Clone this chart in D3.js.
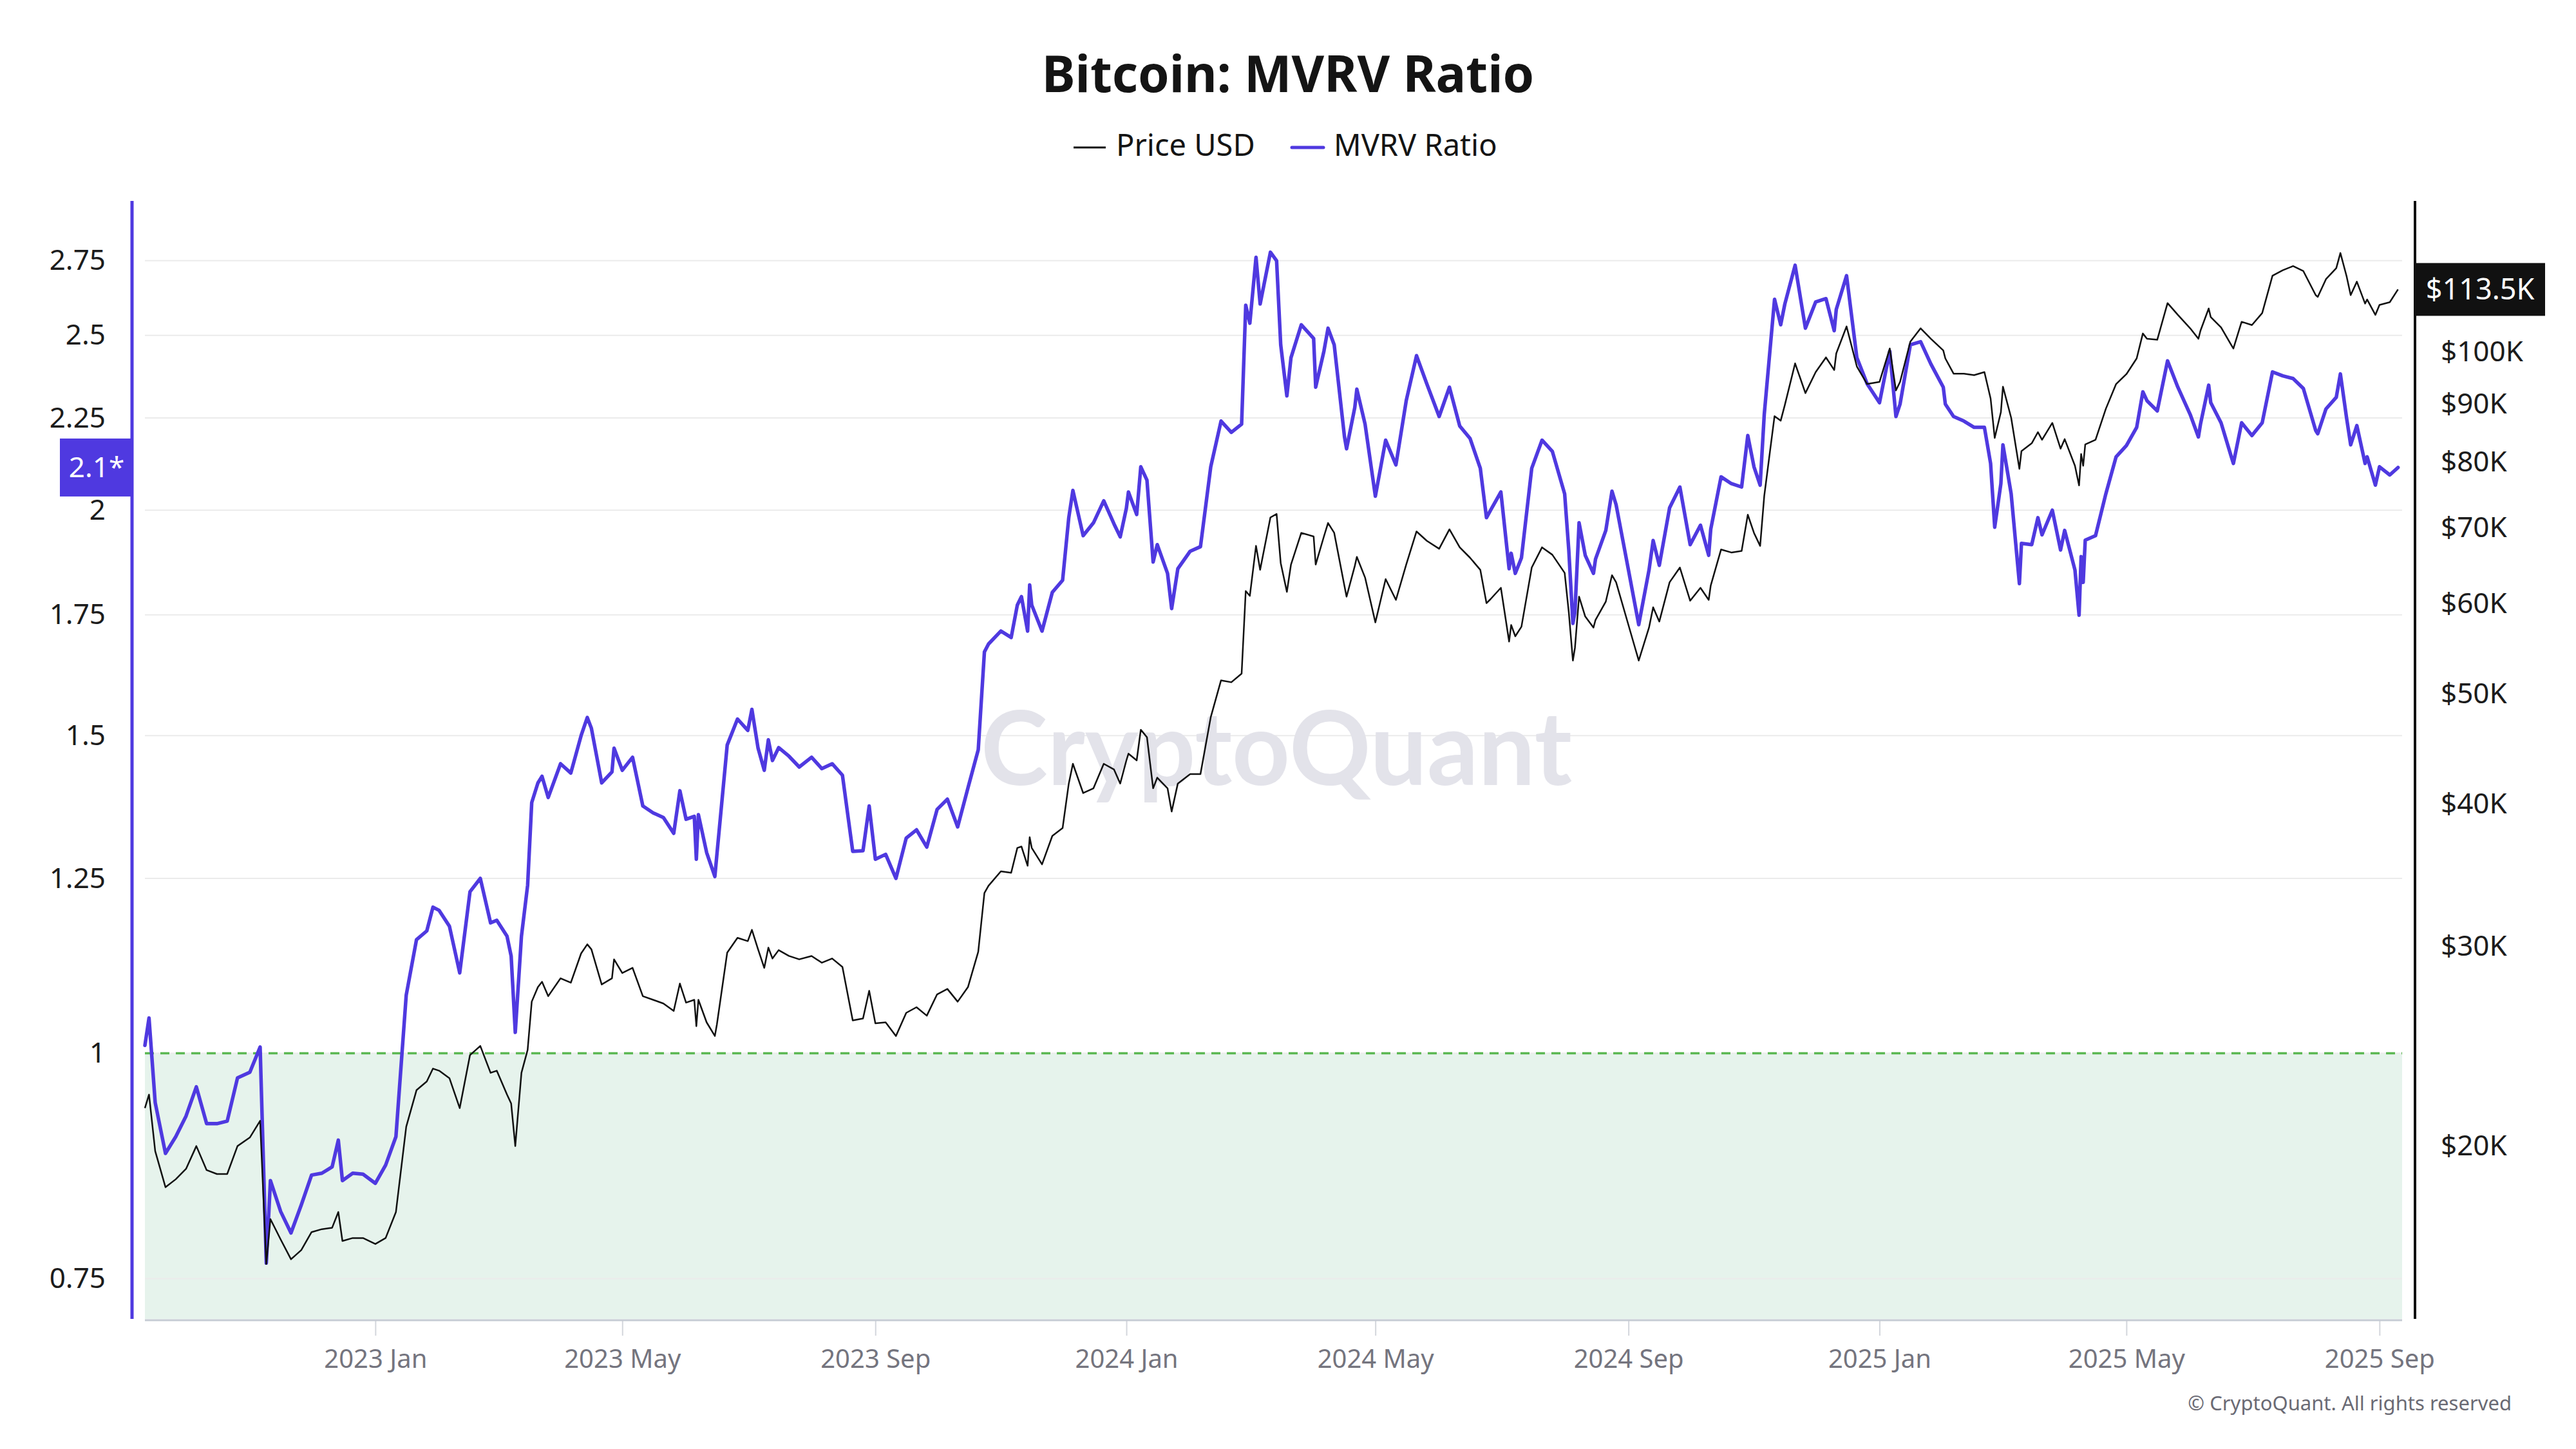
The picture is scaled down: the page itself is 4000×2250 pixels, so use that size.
<!DOCTYPE html>
<html><head><meta charset="utf-8">
<script src="https://cdn.jsdelivr.net/npm/d3@7"></script>
<style>body{margin:0;background:#fff}svg{display:block}text{font-family:"Noto Sans",sans-serif}</style>
</head><body><svg id="chart" width="4000" height="2250"></svg>
<script>
// ---------------- DATA ----------------
const dates = [
"2022-09-11","2022-09-13","2022-09-16","2022-09-21","2022-09-26",
"2022-10-01","2022-10-06","2022-10-11","2022-10-16","2022-10-21","2022-10-26",
"2022-11-01","2022-11-06","2022-11-09","2022-11-11","2022-11-16","2022-11-21","2022-11-26",
"2022-12-01","2022-12-06","2022-12-11","2022-12-14","2022-12-16","2022-12-21","2022-12-26",
"2023-01-01","2023-01-06","2023-01-11","2023-01-16","2023-01-21","2023-01-26","2023-01-29",
"2023-02-01","2023-02-06","2023-02-11","2023-02-16","2023-02-21","2023-02-26",
"2023-03-01","2023-03-06","2023-03-08","2023-03-10","2023-03-13","2023-03-16","2023-03-18","2023-03-21","2023-03-23","2023-03-26",
"2023-04-01","2023-04-06","2023-04-11","2023-04-14","2023-04-16","2023-04-21","2023-04-26","2023-04-27",
"2023-05-01","2023-05-06","2023-05-11","2023-05-16","2023-05-21","2023-05-26","2023-05-29",
"2023-06-01","2023-06-05","2023-06-06","2023-06-07","2023-06-11","2023-06-15","2023-06-16","2023-06-21","2023-06-26",
"2023-07-01","2023-07-03","2023-07-06","2023-07-09","2023-07-11","2023-07-13","2023-07-16","2023-07-21","2023-07-26",
"2023-08-01","2023-08-06","2023-08-11","2023-08-16","2023-08-21","2023-08-26","2023-08-29",
"2023-09-01","2023-09-06","2023-09-11","2023-09-16","2023-09-21","2023-09-26",
"2023-10-01","2023-10-06","2023-10-11","2023-10-16","2023-10-21","2023-10-24","2023-10-26",
"2023-11-01","2023-11-06","2023-11-09","2023-11-11","2023-11-14","2023-11-15","2023-11-16","2023-11-21","2023-11-26",
"2023-12-01","2023-12-04","2023-12-06","2023-12-11","2023-12-16","2023-12-21","2023-12-26","2023-12-29",
"2024-01-01","2024-01-02","2024-01-06","2024-01-08","2024-01-11","2024-01-14","2024-01-16","2024-01-21","2024-01-23","2024-01-26",
"2024-02-01","2024-02-06","2024-02-11","2024-02-16","2024-02-21","2024-02-26","2024-02-28",
"2024-03-01","2024-03-04","2024-03-06","2024-03-11","2024-03-14","2024-03-16","2024-03-19","2024-03-21","2024-03-26",
"2024-04-01","2024-04-02","2024-04-06","2024-04-08","2024-04-11","2024-04-16","2024-04-17","2024-04-21","2024-04-22","2024-04-26",
"2024-05-01","2024-05-06","2024-05-11","2024-05-16","2024-05-21","2024-05-26",
"2024-06-01","2024-06-06","2024-06-11","2024-06-16","2024-06-21","2024-06-24","2024-06-26",
"2024-07-01","2024-07-05","2024-07-06","2024-07-08","2024-07-11","2024-07-16","2024-07-21","2024-07-26",
"2024-08-01","2024-08-03","2024-08-05","2024-08-06","2024-08-08","2024-08-11","2024-08-15","2024-08-16","2024-08-21","2024-08-24","2024-08-26",
"2024-09-01","2024-09-06","2024-09-11","2024-09-13","2024-09-16","2024-09-21","2024-09-26",
"2024-10-01","2024-10-06","2024-10-10","2024-10-11","2024-10-16","2024-10-21","2024-10-26","2024-10-29",
"2024-11-01","2024-11-04","2024-11-06","2024-11-11","2024-11-14","2024-11-16","2024-11-21","2024-11-26",
"2024-12-01","2024-12-06","2024-12-10","2024-12-11","2024-12-16","2024-12-21","2024-12-26",
"2025-01-01","2025-01-06","2025-01-09","2025-01-11","2025-01-16","2025-01-21","2025-01-26",
"2025-02-01","2025-02-02","2025-02-06","2025-02-11","2025-02-16","2025-02-21","2025-02-24","2025-02-26",
"2025-03-01","2025-03-02","2025-03-06","2025-03-10","2025-03-11","2025-03-16","2025-03-19","2025-03-21","2025-03-26","2025-03-30",
"2025-04-01","2025-04-06","2025-04-08","2025-04-09","2025-04-10","2025-04-11","2025-04-16","2025-04-21","2025-04-26",
"2025-05-01","2025-05-06","2025-05-09","2025-05-11","2025-05-16","2025-05-21","2025-05-26",
"2025-06-01","2025-06-05","2025-06-06","2025-06-10","2025-06-11","2025-06-16","2025-06-21","2025-06-22","2025-06-26",
"2025-07-01","2025-07-06","2025-07-11","2025-07-16","2025-07-21","2025-07-26",
"2025-08-01","2025-08-02","2025-08-06","2025-08-11","2025-08-13","2025-08-16","2025-08-18","2025-08-21","2025-08-25","2025-08-26","2025-08-30",
"2025-09-01","2025-09-06","2025-09-10"
];

const priceUSD = [
21600,22200,19800,18400,18700,
19100,20000,19050,18900,18900,20000,
20350,21050,15750,17250,16550,15900,16200,
16800,16900,16950,17500,16500,16600,16600,
16400,16600,17500,20800,22400,22800,23400,
23300,22950,21600,24050,24500,23200,
23300,22200,21800,20000,23200,24300,26800,27600,27900,27100,
28100,27850,29550,30100,29800,27750,28100,29200,
28400,28700,27100,26900,26700,26300,27800,
26750,26900,25500,26900,25700,25000,25600,29600,30500,
30300,31000,29800,28700,29900,29250,29750,29400,29200,
29400,29000,29250,28750,25800,25900,27400,
25650,25700,25000,26200,26500,26050,
27200,27500,26800,27600,29650,33400,33900,
34900,34800,36600,36700,35300,37400,36600,35400,37500,
38100,41700,43400,40900,41300,43400,42900,41700,
43700,44300,43700,46500,45800,41300,42200,41300,39400,41700,
42500,42500,47700,51400,51200,52100,61600,
61000,67500,64300,71500,72000,65200,61500,65000,69300,
68800,65000,68800,70700,69300,62200,60900,64800,66000,63300,
57800,63100,60500,65000,69500,68200,
67100,69800,67300,65900,64300,60100,60600,
62000,55600,57500,56200,57300,64600,67300,66300,
63900,59000,53500,54900,60900,58500,57200,58100,60300,63600,62700,
57500,53500,57200,59600,57900,62700,64600,
60400,62000,60500,62300,67000,66600,66800,71900,
69300,67500,74700,87800,87000,89800,97700,92000,
96000,98900,96400,99700,105300,97100,93700,
94100,100700,92500,94100,102100,104900,102700,
100300,98700,95700,95700,95400,96000,91000,84000,
88500,93200,87500,78900,81800,83100,85000,83700,86600,82200,
83800,79400,76300,81300,79400,82900,83700,89100,93700,
95600,98700,103800,102700,102500,110400,107800,
104900,102700,104400,109200,107300,105100,101400,100700,106300,
105600,108200,116700,118000,119000,117800,
112200,111800,115900,118500,122200,116600,112200,115300,110300,111200,107800,
110000,110600,113500
];

const mvrvRatio = [
1.010,1.046,0.939,0.880,0.899,
0.923,0.958,0.914,0.914,0.917,0.969,
0.976,1.008,0.765,0.850,0.817,0.795,0.824,
0.856,0.858,0.865,0.895,0.850,0.858,0.857,
0.847,0.867,0.899,1.077,1.156,1.169,1.205,
1.200,1.176,1.108,1.229,1.250,1.181,
1.185,1.161,1.132,1.027,1.161,1.239,1.377,1.412,1.424,1.386,
1.447,1.430,1.500,1.535,1.514,1.412,1.432,1.476,
1.435,1.459,1.371,1.359,1.351,1.324,1.398,
1.348,1.353,1.281,1.356,1.292,1.253,1.289,1.482,1.532,
1.510,1.551,1.476,1.435,1.492,1.453,1.477,1.461,1.441,
1.459,1.438,1.447,1.426,1.294,1.295,1.371,
1.281,1.289,1.250,1.316,1.330,1.301,
1.365,1.383,1.335,1.403,1.473,1.669,1.686,
1.714,1.700,1.772,1.791,1.714,1.818,1.772,1.714,1.801,
1.829,1.981,2.051,1.936,1.968,2.024,1.965,1.933,
2.005,2.047,1.989,2.114,2.078,1.872,1.914,1.845,1.764,1.856,
1.898,1.909,2.114,2.241,2.209,2.232,2.598,
2.539,2.762,2.602,2.780,2.750,2.470,2.314,2.430,2.534,
2.490,2.340,2.450,2.523,2.470,2.196,2.163,2.280,2.334,2.232,
2.036,2.187,2.119,2.300,2.436,2.350,
2.254,2.340,2.227,2.192,2.110,1.981,2.000,
2.047,1.856,1.893,1.845,1.882,2.110,2.187,2.156,
2.042,1.901,1.731,1.756,1.968,1.888,1.845,1.879,1.949,2.049,2.014,
1.853,1.728,1.853,1.924,1.864,2.006,2.060,
1.914,1.962,1.888,1.952,2.087,2.069,2.060,2.200,
2.114,2.065,2.260,2.618,2.534,2.602,2.734,2.523,
2.609,2.620,2.515,2.584,2.698,2.430,2.350,
2.294,2.450,2.254,2.290,2.470,2.480,2.410,
2.340,2.290,2.254,2.241,2.223,2.223,2.123,1.957,
2.069,2.174,2.042,1.821,1.917,1.914,1.981,1.938,2.000,1.901,
1.949,1.853,1.749,1.885,1.824,1.925,1.936,2.042,2.141,
2.172,2.223,2.326,2.300,2.270,2.420,2.340,
2.260,2.196,2.232,2.346,2.294,2.236,2.141,2.123,2.236,
2.200,2.236,2.386,2.374,2.366,2.336,
2.214,2.205,2.276,2.310,2.380,2.250,2.174,2.228,2.123,2.141,2.065,
2.114,2.092,2.112
];

const mvrvTicks = [0.75, 1, 1.25, 1.5, 1.75, 2, 2.25, 2.5, 2.75];
const priceTicks = [20000, 30000, 40000, 50000, 60000, 70000, 80000, 90000, 100000];
const xTickDates = ["2023-01-01","2023-05-01","2023-09-01","2024-01-01","2024-05-01","2024-09-01","2025-01-01","2025-05-01","2025-09-01"];
const xTickLabels = ["2023 Jan","2023 May","2023 Sep","2024 Jan","2024 May","2024 Sep","2025 Jan","2025 May","2025 Sep"];
const xDomain = ["2022-09-11","2025-09-12"];
const mvrvDomain = [0.7124, 2.968];
const priceDomain = [14090, 135800];
const mvrvThreshold = 1;
const lastMvrvLabel = "2.1*";
const lastPriceLabel = "$113.5K";
const chartTitle = "Bitcoin: MVRV Ratio";
const seriesNames = ["Price USD", "MVRV Ratio"];

// ---------------- DRAW ----------------
const BLUE = "#4f39e0", BLACK = "#111111";
const parse = d3.utcParse("%Y-%m-%d");
const svg = d3.select("#chart");
const P = {left: 225, right: 3730, top: 312, bottom: 2048};

const x = d3.scaleUtc().domain(xDomain.map(parse)).range([P.left, P.right]);
const yM = d3.scaleLog().domain(mvrvDomain).range([P.bottom, P.top]);
const yP = d3.scaleLog().domain(priceDomain).range([P.bottom, P.top]);

const n = Math.min(dates.length, priceUSD.length, mvrvRatio.length);
const data = dates.slice(0, n).map((d, i) => ({date: parse(d), price: priceUSD[i], mvrv: mvrvRatio[i]}));

// green zone below 1
svg.append("rect")
  .attr("x", P.left).attr("width", P.right - P.left)
  .attr("y", yM(mvrvThreshold)).attr("height", P.bottom - yM(mvrvThreshold))
  .attr("fill", "#e6f3ec");

// gridlines
svg.append("g").selectAll("line").data(mvrvTicks).join("line")
  .attr("x1", P.left).attr("x2", P.right)
  .attr("y1", d => yM(d)).attr("y2", d => yM(d))
  .attr("stroke", "#ebebeb").attr("stroke-width", 2);

// watermark
svg.append("text")
  .attr("x", 1982).attr("y", 1219)
  .attr("text-anchor", "middle")
  .attr("textLength", 918).attr("lengthAdjust", "spacingAndGlyphs")
  .style("font-family", "Lato, 'Noto Sans', sans-serif")
  .style("font-weight", 700).style("font-size", "160px")
  .attr("fill", "#e3e3ea")
  .text("CryptoQuant");

// dashed threshold line
svg.append("line")
  .attr("x1", P.left).attr("x2", P.right)
  .attr("y1", yM(mvrvThreshold)).attr("y2", yM(mvrvThreshold))
  .attr("stroke", "#5cb853").attr("stroke-width", 3.5)
  .attr("stroke-dasharray", "14,10");

// series lines
const lineM = d3.line().x(d => x(d.date)).y(d => yM(d.mvrv));
const lineP = d3.line().x(d => x(d.date)).y(d => yP(d.price));
svg.append("path").datum(data).attr("d", lineM)
  .attr("fill", "none").attr("stroke", BLUE).attr("stroke-width", 5.5)
  .attr("stroke-linejoin", "round").attr("stroke-linecap", "round");
svg.append("path").datum(data).attr("d", lineP)
  .attr("fill", "none").attr("stroke", BLACK).attr("stroke-width", 2.5)
  .attr("stroke-linejoin", "round");

// bottom axis
const xAxis = d3.axisBottom(x)
  .tickValues(xTickDates.map(parse))
  .tickFormat((d, i) => xTickLabels[i])
  .tickSize(23).tickPadding(22);
const gx = svg.append("g").attr("transform", `translate(0,${P.bottom + 3})`).call(xAxis);
gx.select(".domain").remove();
gx.selectAll(".tick line").attr("stroke", "#d3d6dc").attr("stroke-width", 2);
gx.selectAll(".tick text").attr("fill", "#74747e").style("font-size", "40px")
  .style("font-family", "'Noto Sans', sans-serif");
svg.append("line")
  .attr("x1", P.left).attr("x2", P.right)
  .attr("y1", P.bottom + 2).attr("y2", P.bottom + 2)
  .attr("stroke", "#c6cbd4").attr("stroke-width", 3);

// left axis (MVRV)
const yAxisL = d3.axisLeft(yM).tickValues(mvrvTicks).tickFormat(d => String(d)).tickSize(0).tickPadding(41);
const gl = svg.append("g").attr("transform", `translate(205,0)`).call(yAxisL);
gl.select(".domain").remove();
gl.selectAll(".tick text").attr("fill", "#1c1c1c").style("font-size", "44px")
  .style("font-family", "'Noto Sans', sans-serif");
svg.append("line").attr("x1", 205).attr("x2", 205).attr("y1", P.top).attr("y2", P.bottom)
  .attr("stroke", BLUE).attr("stroke-width", 5);

// right axis (price)
const yAxisR = d3.axisRight(yP).tickValues(priceTicks).tickFormat(d => "$" + (d / 1000) + "K").tickSize(0).tickPadding(40);
const gr = svg.append("g").attr("transform", `translate(3750,0)`).call(yAxisR);
gr.select(".domain").remove();
gr.selectAll(".tick text").attr("fill", "#1c1c1c").style("font-size", "44px")
  .style("font-family", "'Noto Sans', sans-serif");
svg.append("line").attr("x1", 3750).attr("x2", 3750).attr("y1", P.top).attr("y2", P.bottom)
  .attr("stroke", BLACK).attr("stroke-width", 4);

// last-value badges
const last = data[data.length - 1];
const bM = yM(last.mvrv);
svg.append("rect").attr("x", 93).attr("y", bM - 45).attr("width", 112).attr("height", 90).attr("fill", BLUE);
svg.append("text").attr("x", 150).attr("y", bM).attr("dy", "0.35em").attr("text-anchor", "middle")
  .attr("fill", "#fff").style("font-size", "44px").text(lastMvrvLabel);
const bP = yP(last.price);
svg.append("rect").attr("x", 3750).attr("y", bP - 41).attr("width", 202).attr("height", 82).attr("fill", BLACK);
svg.append("text").attr("x", 3851).attr("y", bP).attr("dy", "0.35em").attr("text-anchor", "middle")
  .attr("fill", "#fff").style("font-size", "45px").text(lastPriceLabel);

// title
svg.append("text").attr("x", 2000).attr("y", 143).attr("text-anchor", "middle")
  .attr("fill", "#141414").style("font-size", "78px").style("font-weight", 700).text(chartTitle);

// legend
const legend = svg.append("g");
legend.append("line").attr("x1", 1667).attr("x2", 1717).attr("y1", 229).attr("y2", 229)
  .attr("stroke", BLACK).attr("stroke-width", 3);
legend.append("text").attr("x", 1733).attr("y", 242).attr("fill", "#141414")
  .style("font-size", "47px").text(seriesNames[0]);
legend.append("line").attr("x1", 2006).attr("x2", 2055).attr("y1", 229).attr("y2", 229)
  .attr("stroke", BLUE).attr("stroke-width", 5).attr("stroke-linecap", "round");
legend.append("text").attr("x", 2071).attr("y", 242).attr("fill", "#141414")
  .style("font-size", "47px").text(seriesNames[1]);

// copyright
svg.append("text").attr("x", 3900).attr("y", 2190).attr("text-anchor", "end")
  .attr("fill", "#6a6a74").style("font-size", "31px").text("© CryptoQuant. All rights reserved");
</script>
</body></html>
